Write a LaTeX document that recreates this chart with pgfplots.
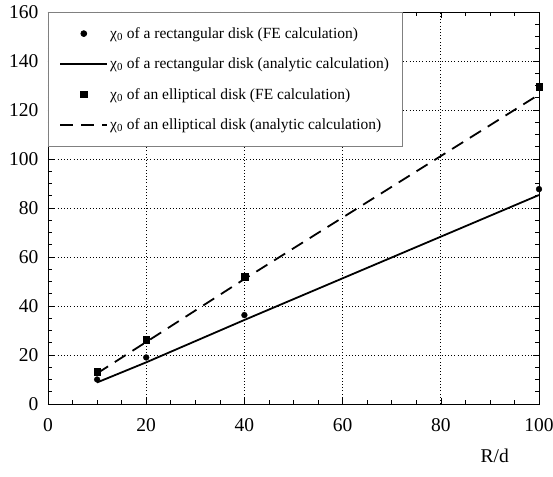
\documentclass[border=0pt]{standalone}
\usepackage{fontspec}
\setmainfont{Liberation Serif}
\usepackage{pgfplots}
\pgfplotsset{compat=1.18}
\newcommand{\chio}{χ\textsubscript{0}}
\begin{document}
\begin{tikzpicture}
\begin{axis}[
    scale only axis,
    width=491pt, height=392pt,
    xmin=0, xmax=100, ymin=0, ymax=160,
    xtick={0,20,...,100}, ytick={0,20,...,160},
    minor x tick num=3, minor y tick num=3,
    tick align=inside,
    major tick length=6pt, minor tick length=4pt,
    tick style={black, line width=0.6pt},
    axis line style={line width=0.8pt},
    grid=major,
    major grid style={black, dash pattern=on 0.8pt off 2.4pt, line width=0.8pt},
    ticklabel style={font=\fontsize{19.5}{21}\selectfont},
    /pgf/number format/assume math mode=true,
    xticklabel style={yshift=-11pt},
    yticklabel style={xshift=-6pt},
    xlabel={R/d},
    xlabel style={font=\fontsize{19.5}{21}\selectfont, at={(axis description cs:0.91,0)}, anchor=center, yshift=-52pt},
    legend cell align=left,
    legend image code/.code={\draw[mark repeat=2,mark phase=2] plot coordinates {(0pt,0pt) (23.5pt,0pt) (47pt,0pt)};},
    legend style={at={(0,1)}, anchor=north west, draw=gray, line width=0.8pt,
        font=\fontsize{15.5}{17}\selectfont, inner xsep=11pt, inner ysep=13pt,
        row sep=14pt, fill=white},
]
\addplot[only marks, mark=*, mark size=2.9pt, black] coordinates {
    (10,10) (20,19) (40,36.3) (100,87.7)
};
\addlegendentry{\chio{} of a rectangular disk (FE calculation)}
\addplot[black, line width=1.8pt, no marks] coordinates {
    (10,8.8) (20,17) (40,34.3) (100,85.3)
};
\addlegendentry{\chio{} of a rectangular disk (analytic calculation)}
\addplot[only marks, mark=square*, mark size=3.3pt, black] coordinates {
    (10,13.2) (20,26.3) (40,52) (100,129.4)
};
\addlegendentry{\chio{} of an elliptical disk (FE calculation)}
\addplot[black, line width=1.8pt, dash pattern=on 13pt off 8pt, no marks] coordinates {
    (10,12.5) (20,25.3) (40,51) (100,126.3)
};
\addlegendentry{\chio{} of an elliptical disk (analytic calculation)}
\coordinate (sw) at (rel axis cs:0,0);
\coordinate (ne) at (rel axis cs:1,1);
\end{axis}
\pgfresetboundingbox
\path[use as bounding box] ([xshift=-48pt,yshift=-72pt]sw) rectangle ([xshift=14pt,yshift=12pt]ne);
\end{tikzpicture}
\end{document}
